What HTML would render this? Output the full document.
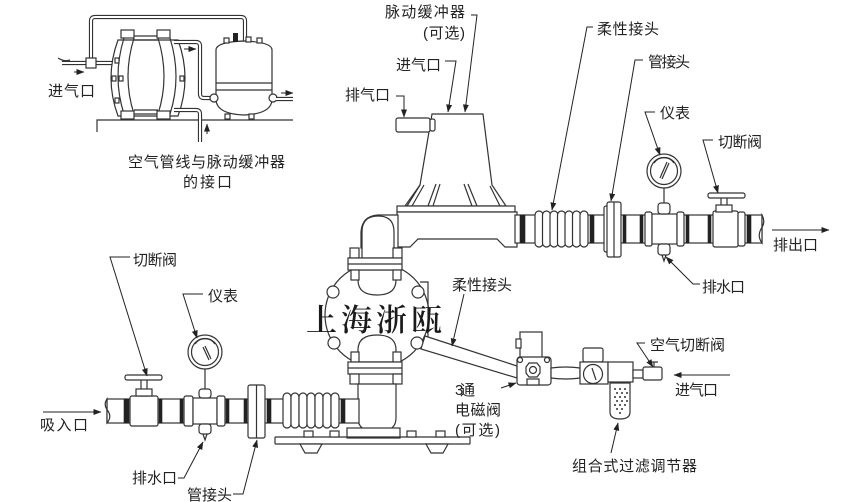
<!DOCTYPE html>
<html><head><meta charset="utf-8"><style>
html,body{margin:0;padding:0;background:#fff}
svg{display:block}
.l{fill:none;stroke:#333;stroke-width:1.2}
.w{fill:#fff;stroke:#333;stroke-width:1.2}
.d{fill:#222;stroke:#222;stroke-width:0.6}
.t{font-family:"Liberation Sans","Noto Sans CJK SC",sans-serif;font-size:15px;fill:#222}
.ld{fill:none;stroke:#222;stroke-width:1}
</style></head><body>
<svg width="850" height="502" viewBox="0 0 850 502" xmlns="http://www.w3.org/2000/svg">
<defs>
<marker id="a" markerWidth="8" markerHeight="6" refX="7.5" refY="3" orient="auto" markerUnits="userSpaceOnUse"><path d="M0,0 L8,3 L0,6 Z" fill="#222"/></marker>
</defs>

<!-- ============ TOP-LEFT INSET ============ -->
<polyline class="l" points="97,132 97,120 293,120"/>
<path d="M91,64 L91,21 Q91,17 95,17 L241,17 Q245,17 245,21 L245,42" fill="none" stroke="#333" stroke-width="4.2"/>
<path d="M91,64 L91,21 Q91,17 95,17 L241,17 Q245,17 245,21 L245,42" fill="none" stroke="#fff" stroke-width="2"/>
<path d="M62,63 L156,63" fill="none" stroke="#333" stroke-width="4.2"/>
<path d="M62,63 L156,63" fill="none" stroke="#fff" stroke-width="2"/>
<path class="l" d="M58,58 Q64,62 70,60"/>
<rect class="w" x="86" y="58" width="10" height="10"/>
<circle class="w" cx="156" cy="61" r="3"/>
<path class="w" d="M118,40 Q104,78 118,116 L178,116 Q192,78 178,40 Z"/>
<path class="l" d="M124,38 Q112,77 124,114"/>
<path class="l" d="M134,38 Q122,77 134,114"/>
<path class="l" d="M158,38 Q170,77 158,114"/>
<path class="l" d="M170,38 Q182,77 170,114"/>
<path class="l" d="M134,36 L158,36 M134,40 L158,40 M134,110 L158,110 M134,114 L158,114"/>
<rect class="w" x="121" y="30" width="13" height="8"/>
<rect class="w" x="157" y="30" width="13" height="8"/>
<rect class="w" x="121" y="111" width="13" height="8"/>
<rect class="w" x="157" y="111" width="13" height="8"/>
<rect class="w" x="112" y="76" width="4" height="5"/>
<rect class="w" x="119" y="76" width="4" height="5"/>
<rect class="w" x="180" y="76" width="4" height="5"/>
<rect class="w" x="115" y="58" width="4" height="5"/>
<rect class="w" x="115" y="98" width="4" height="5"/>
<path d="M174,42 L196,42 Q200,42 200,46 L200,94 Q200,98 204,98 L214,98" fill="none" stroke="#333" stroke-width="4.2"/>
<path d="M174,42 L196,42 Q200,42 200,46 L200,94 Q200,98 204,98 L214,98" fill="none" stroke="#fff" stroke-width="2"/>
<path d="M174,110 L196,110 Q200,110 200,114 L200,142" fill="none" stroke="#333" stroke-width="4.2"/>
<path d="M174,110 L196,110 Q200,110 200,114 L200,142" fill="none" stroke="#fff" stroke-width="2"/>
<path class="w" d="M216,50 Q216,42 244,41 Q272,42 272,50 L272,100 Q271,114 244,115 Q217,114 216,100 Z"/>
<path class="l" d="M216,83 L272,83 M216,90 L272,90"/>
<rect x="233" y="33" width="5" height="9" fill="#222"/>
<rect class="w" x="224" y="38" width="5" height="5"/>
<rect class="w" x="257" y="38" width="5" height="5"/>
<rect class="w" x="246" y="37" width="5" height="5"/>
<rect class="w" x="225" y="114" width="5" height="5"/>
<rect class="w" x="249" y="114" width="5" height="5"/>
<circle class="w" cx="214" cy="98" r="4"/>
<circle class="w" cx="273" cy="98" r="4"/>
<path d="M276,99 L293,99" fill="none" stroke="#333" stroke-width="4.2"/>
<path d="M276,99 L293,99" fill="none" stroke="#fff" stroke-width="2"/>
<line class="ld" x1="184" y1="49" x2="196" y2="49" marker-end="url(#a)"/>
<line class="ld" x1="74" y1="72" x2="84" y2="72" marker-end="url(#a)"/>
<line class="ld" x1="281" y1="93" x2="293" y2="93" marker-end="url(#a)"/>
<line class="ld" x1="207" y1="134" x2="207" y2="124" marker-end="url(#a)"/>
<text class="t" x="48" y="96" textLength="47">进气口</text>
<text class="t" x="128" y="167" textLength="157">空气管线与脉动缓冲器</text>
<text class="t" x="183" y="187" textLength="49">的接口</text>

<!-- ============ PULSATION DAMPENER ============ -->
<path class="w" d="M432,114 L483,114 L492,185 L506,206 L405,206 L420,185 Z"/>
<path class="l" d="M420,185 L407,206 M424,185 L412,206 M436,184 L428,206 M440,184 L433,206 M464,184 L472,206 M468,184 L477,206 M490,186 L500,206"/>
<rect class="w" x="397" y="206" width="118" height="6"/>
<path class="w" d="M397,212 L517,212 L517,247 L505,247 L497,239 L418,239 L410,247 L397,247 Z"/>
<rect class="w" x="396" y="118" width="34" height="14" rx="2"/>
<rect class="w" x="430" y="119" width="5" height="12" rx="2"/>
<path class="w" d="M398,215 L378,215 Q362,216 361,232 L361,248 L398,248 Z"/>

<!-- ============ PUMP ============ -->
<circle class="w" cx="377" cy="315" r="52"/>
<path class="w" d="M362,258 L362,232 Q362,216 378,216 Q394,216 394,232 L394,258 Z"/>
<path class="w" d="M358,270 L358,280 Q358,295 377,295 Q396,295 396,280 L396,270 Z"/>
<rect class="w" x="350" y="248" width="9" height="10"/>
<rect class="w" x="393" y="248" width="9" height="10"/>
<rect class="w" x="348" y="258" width="54" height="12"/>
<line class="l" x1="348" y1="264" x2="402" y2="264"/>
<rect class="w" x="351" y="270" width="8" height="10"/>
<rect class="w" x="393" y="270" width="8" height="10"/>
<path class="w" d="M358,362 L358,350 Q358,335 377,335 Q396,335 396,350 L396,362 Z"/>
<rect class="w" x="351" y="352" width="8" height="10"/>
<rect class="w" x="393" y="352" width="8" height="10"/>
<rect class="w" x="348" y="362" width="54" height="12"/>
<line class="l" x1="348" y1="368" x2="402" y2="368"/>
<rect class="w" x="350" y="374" width="9" height="10"/>
<rect class="w" x="393" y="374" width="9" height="10"/>
<path class="w" d="M358,384 L358,418 Q358,432 377,432 Q396,432 396,418 L396,384 Z"/>
<circle class="w" cx="333" cy="292" r="6"/>
<circle class="w" cx="418" cy="292" r="6"/>
<circle class="w" cx="334" cy="343" r="6"/>
<circle class="w" cx="417" cy="343" r="6"/>
<polyline class="l" points="420,282 428,282 428,338"/>
<rect class="w" x="347" y="428" width="53" height="10"/>
<path class="l" d="M275,437 L470,437 M275,444 L470,444 M275,437 L275,444 M470,437 L470,444"/>
<rect class="w" x="304" y="431" width="9" height="6"/>
<rect class="w" x="330" y="431" width="9" height="6"/>
<rect class="w" x="407" y="431" width="9" height="6"/>
<rect class="w" x="436" y="431" width="9" height="6"/>
<path class="w" d="M300,444 L322,444 L317,453 L305,453 Z"/>
<path class="w" d="M426,444 L448,444 L443,453 L431,453 Z"/>

<text x="306" y="331" textLength="136" style="font-family:'Noto Serif CJK SC','Noto Sans CJK SC',serif;font-size:31px;font-weight:600;fill:#1a1a1a">上海浙瓯</text>

<!-- ============ LOWER SUCTION PIPE ============ -->
<rect class="w" x="107" y="399" width="252" height="24"/>
<path class="w" d="M107,399 Q103,405 108,411 Q112,417 107,423 Z"/>
<rect class="d" x="124" y="399" width="5" height="24"/>
<rect class="w" x="130" y="396" width="28" height="30" rx="2"/>
<rect class="d" x="159" y="399" width="3" height="24"/>
<rect class="d" x="180" y="399" width="3" height="24"/>
<rect class="w" x="184" y="396" width="9" height="30" rx="2"/>
<rect class="w" x="193" y="398" width="24" height="26"/>
<rect class="w" x="217" y="396" width="8" height="30" rx="2"/>
<rect class="d" x="226" y="399" width="3" height="24"/>
<rect class="d" x="244" y="399" width="3" height="24"/>
<rect class="w" x="248" y="385" width="17" height="53" rx="2"/>
<line class="l" x1="256.5" y1="385" x2="256.5" y2="438"/>
<rect class="d" x="267" y="399" width="4" height="24"/>
<rect class="w" x="283" y="393" width="8" height="35" rx="4"/>
<rect class="w" x="291" y="393" width="8" height="35" rx="4"/>
<rect class="w" x="299" y="393" width="8" height="35" rx="4"/>
<rect class="w" x="307" y="393" width="8" height="35" rx="4"/>
<rect class="w" x="315" y="393" width="8" height="35" rx="4"/>
<rect class="w" x="323" y="393" width="8" height="35" rx="4"/>
<rect class="w" x="331" y="393" width="8" height="35" rx="4"/>
<rect class="d" x="341" y="399" width="4" height="24"/>
<rect class="w" x="141" y="379" width="6" height="17"/>
<rect class="w" x="125" y="375" width="37" height="5" rx="2"/>
<rect class="w" x="136" y="389" width="16" height="7"/>
<line class="l" x1="205" y1="369" x2="205" y2="389"/>
<rect class="w" x="199" y="389" width="12" height="9" rx="3"/>
<circle class="w" cx="205" cy="352" r="17"/>
<circle class="l" cx="205" cy="352" r="13.5"/>
<path class="l" d="M195,344 A12,12 0 0 1 215,344"/>
<path class="l" d="M203,347 L209,360 M205,346 L211,359"/>
<rect class="w" x="199" y="424" width="12" height="10" rx="3"/>
<path class="l" d="M203,434 L205,440 L207,434"/>

<!-- ============ UPPER DISCHARGE PIPE ============ -->
<rect class="w" x="515" y="215" width="247" height="28"/>
<path class="w" d="M762,215 Q766,222 761,229 Q757,236 762,243 Z"/>
<rect class="d" x="520" y="215" width="5" height="28"/>
<rect class="w" x="535" y="211" width="8" height="36" rx="4"/>
<rect class="w" x="542.5" y="211" width="8" height="36" rx="4"/>
<rect class="w" x="550" y="211" width="8" height="36" rx="4"/>
<rect class="w" x="557.5" y="211" width="8" height="36" rx="4"/>
<rect class="w" x="565" y="211" width="8" height="36" rx="4"/>
<rect class="w" x="572.5" y="211" width="8" height="36" rx="4"/>
<rect class="w" x="580" y="211" width="8" height="36" rx="4"/>
<rect class="d" x="590" y="215" width="4" height="28"/>
<rect class="w" x="604" y="206" width="4" height="46" rx="2"/>
<rect class="w" x="607" y="202" width="14" height="55" rx="2"/>
<line class="l" x1="614" y1="202" x2="614" y2="257"/>
<rect class="d" x="623" y="215" width="3" height="28"/>
<rect class="d" x="640" y="215" width="3" height="28"/>
<rect class="w" x="645" y="212" width="7" height="34" rx="2"/>
<rect class="w" x="652" y="214" width="25" height="30"/>
<rect class="w" x="677" y="212" width="7" height="34" rx="2"/>
<rect class="d" x="686" y="215" width="3" height="28"/>
<rect class="d" x="708" y="215" width="3" height="28"/>
<rect class="w" x="713" y="211" width="25" height="36" rx="2"/>
<rect class="w" x="738" y="212" width="7" height="34" rx="2"/>
<rect class="d" x="747" y="215" width="4" height="28"/>
<line class="l" x1="664" y1="188" x2="664" y2="204"/>
<rect class="w" x="658" y="203" width="12" height="11" rx="3"/>
<circle class="w" cx="664" cy="171" r="17"/>
<circle class="l" cx="664" cy="171" r="13.5"/>
<path class="l" d="M654,163 A12,12 0 0 1 674,163"/>
<path class="l" d="M667,162 L660,178 M669,163 L662,179"/>
<rect class="w" x="658" y="244" width="12" height="11" rx="3"/>
<path class="l" d="M662,255 L664,261 L666,255"/>
<rect class="w" x="721" y="197" width="6" height="14"/>
<rect class="w" x="708" y="193" width="37" height="5" rx="2"/>
<rect class="w" x="716" y="205" width="16" height="7"/>

<!-- ============ AIR SUPPLY LINE ============ -->
<path class="w" d="M425,336 L517,366 L517,378 L421,349 Z"/>
<rect class="w" x="520" y="332" width="22" height="26"/>
<rect class="w" x="516" y="339" width="5" height="9"/>
<rect class="w" x="517" y="357" width="34" height="28" rx="3"/>
<polygon class="l" points="529,363 537,363 540,367 540,373 537,377 529,377 526,373 526,367"/>
<circle class="l" cx="533" cy="370" r="3.5"/>
<rect class="w" x="527" y="379" width="12" height="6"/>
<circle class="w" cx="520" cy="360" r="2.5"/>
<circle class="w" cx="547" cy="360" r="2.5"/>
<path class="w" d="M551,368 Q566,366 580,368 L580,378 Q566,380 551,378 Z"/>
<rect class="w" x="583" y="348" width="20" height="14" rx="2"/>
<rect class="w" x="580" y="362" width="28" height="22"/>
<circle class="w" cx="593" cy="374" r="9.5"/>
<line class="l" x1="592" y1="368" x2="596" y2="380"/>
<rect class="w" x="608" y="362" width="25" height="20"/>
<path class="w" d="M610,383 L630,383 L630,412 Q630,419 620,419 Q610,419 610,412 Z"/>
<g fill="#333">
<circle cx="615" cy="389" r="1"/><circle cx="620" cy="389" r="1"/><circle cx="625" cy="389" r="1"/>
<circle cx="617" cy="393" r="1"/><circle cx="622" cy="393" r="1"/><circle cx="627" cy="393" r="1"/>
<circle cx="615" cy="397" r="1"/><circle cx="620" cy="397" r="1"/><circle cx="625" cy="397" r="1"/>
<circle cx="617" cy="401" r="1"/><circle cx="622" cy="401" r="1"/><circle cx="627" cy="401" r="1"/>
<circle cx="615" cy="405" r="1"/><circle cx="620" cy="405" r="1"/><circle cx="625" cy="405" r="1"/>
<circle cx="617" cy="409" r="1"/><circle cx="622" cy="409" r="1"/><circle cx="620" cy="413" r="1"/>
</g>
<rect class="w" x="633" y="370" width="10" height="8"/>
<rect class="w" x="643" y="367" width="19" height="13" rx="2"/>
<line class="l" x1="654" y1="362" x2="654" y2="367"/>
<line class="l" x1="650" y1="362" x2="658" y2="362"/>

<!-- ============ LEADERS & ARROWS ============ -->
<polyline class="ld" points="471,15 477,15 465,112" marker-end="url(#a)"/>
<polyline class="ld" points="445,61 456,61 448,112" marker-end="url(#a)"/>
<polyline class="ld" points="396,96 404,96 404,117" marker-end="url(#a)"/>
<polyline class="ld" points="593,27 587,27 552,210" marker-end="url(#a)"/>
<polyline class="ld" points="643,60 635,60 611,201" marker-end="url(#a)"/>
<polyline class="ld" points="655,112 645,112 660,155" marker-end="url(#a)"/>
<polyline class="ld" points="713,140 703,140 718,193" marker-end="url(#a)"/>
<polyline class="ld" points="700,284 693,284 666,257" marker-end="url(#a)"/>
<line class="ld" x1="772" y1="230" x2="829" y2="230" marker-end="url(#a)"/>
<polyline class="ld" points="464,294 452,346" marker-end="url(#a)"/>
<line class="ld" x1="501" y1="388" x2="516" y2="383" marker-end="url(#a)"/>
<polyline class="ld" points="645,343 637,343 653,367" marker-end="url(#a)"/>
<line class="ld" x1="730" y1="375" x2="674" y2="375" marker-end="url(#a)"/>
<line class="ld" x1="611" y1="453" x2="618" y2="423" marker-end="url(#a)"/>
<polyline class="ld" points="130,257 110,257 147,376" marker-end="url(#a)"/>
<polyline class="ld" points="203,294 183,294 197,338" marker-end="url(#a)"/>
<line class="ld" x1="43" y1="412" x2="101" y2="412" marker-end="url(#a)"/>
<polyline class="ld" points="178,478 184,478 203,442" marker-end="url(#a)"/>
<polyline class="ld" points="233,494 243,494 257,440" marker-end="url(#a)"/>

<!-- ============ LABELS ============ -->
<text class="t" x="385" y="17" textLength="80">脉动缓冲器</text>
<text class="t" x="423" y="38" textLength="42">(可选)</text>
<text class="t" x="396" y="70" textLength="45">进气口</text>
<text class="t" x="345" y="100" textLength="45">排气口</text>
<text class="t" x="597" y="34" textLength="62">柔性接头</text>
<text class="t" x="648" y="67" textLength="42">管接头</text>
<text class="t" x="660" y="118" textLength="30">仪表</text>
<text class="t" x="718" y="147" textLength="44">切断阀</text>
<text class="t" x="773" y="250" textLength="45">排出口</text>
<text class="t" x="702" y="292" textLength="43">排水口</text>
<text class="t" x="452" y="290" textLength="60">柔性接头</text>
<text class="t" x="455" y="395" textLength="20">3通</text>
<text class="t" x="455" y="415" textLength="46">电磁阀</text>
<text class="t" x="455" y="435" textLength="45">(可选)</text>
<text class="t" x="650" y="350" textLength="75">空气切断阀</text>
<text class="t" x="675" y="395" textLength="43">进气口</text>
<text class="t" x="572" y="471" textLength="125">组合式过滤调节器</text>
<text class="t" x="133" y="265" textLength="44">切断阀</text>
<text class="t" x="208" y="301" textLength="30">仪表</text>
<text class="t" x="40" y="430" textLength="48">吸入口</text>
<text class="t" x="132" y="483" textLength="45">排水口</text>
<text class="t" x="187" y="500" textLength="45">管接头</text>
</svg>
</body></html>
